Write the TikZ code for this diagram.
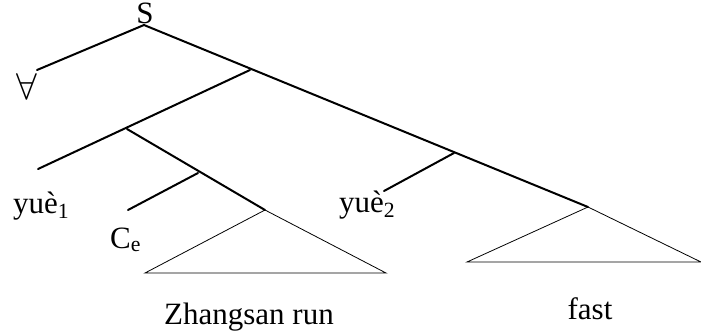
\documentclass[tikz,border=0pt]{standalone}
\usepackage{fontspec}
\setmainfont{Liberation Serif}
\usetikzlibrary{positioning}
\tikzset{
  br/.style={line width=2pt,line cap=round},
  tri/.style={line width=0.8pt},
  lab/.style={font=\fontsize{31}{36}\selectfont,inner sep=0pt},
}

\begin{document}
\begin{tikzpicture}[x=1pt,y=-1pt]
\useasboundingbox (0,0) rectangle (701,333);
% branching points
\coordinate (root) at (144,25);
\coordinate (n1) at (250,70);
\coordinate (n2) at (127,129);
\coordinate (n3) at (198,173);
\coordinate (n4) at (454,153);
\coordinate (forallend) at (37,70);
\coordinate (yueoneend) at (38,169);
\coordinate (ceend) at (128,210);
\coordinate (yuetwoend) at (384,191);
\coordinate (topA) at (265,210);
\coordinate (topB) at (588,207);
% labels
\node[lab,anchor=base] (s) at (145,23) {S};
\node[lab,anchor=base] (forall) at (27,99) {\scalebox{1.5}{$\forall$}};
\node[lab,anchor=base west] (yueone) at (13,213) {yuè\textsubscript{1}};
\node[lab,anchor=base west] (ce) at (110,248) {C\textsubscript{e}};
\node[lab,anchor=base west] (yuetwo) at (339,212) {yuè\textsubscript{2}};
\node[lab,anchor=base] (zr) at (249,324) {Zhangsan run};
\node[lab,anchor=base] (fast) at (590,319) {fast};
% branches
\draw[br] (forallend) -- (root) -- (topB);
\draw[br] (yueoneend) -- (n1);
\draw[br] (n2) -- (topA);
\draw[br] (ceend) -- (n3);
\draw[br] (yuetwoend) -- (n4);
% triangles
\draw[tri] (topA) -- (145,273) -- (386,273) -- cycle;
\draw[tri] (topB) -- (467,262) -- (701,262) -- cycle;
\end{tikzpicture}
\end{document}
